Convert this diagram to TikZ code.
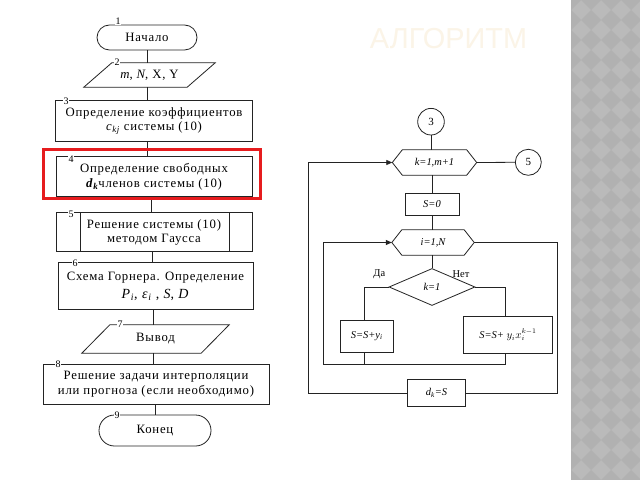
\documentclass[tikz,border=0pt]{standalone}
\usepackage{fontspec}
\setmainfont{Liberation Serif}
\newfontfamily\lfont{Liberation Serif}[LetterSpace=6]
\newfontfamily\titlefont{Liberation Sans}
\usetikzlibrary{arrows.meta,shapes.geometric}
\definecolor{redframe}{RGB}{230,28,30}
\definecolor{stripgray}{RGB}{186,186,186}
\definecolor{stripdark}{RGB}{177,177,177}
\definecolor{titlecol}{RGB}{251,244,231}
\definecolor{ln}{RGB}{35,35,35}
\newcommand\isub[1]{\textsubscript{\itshape #1}}
\begin{document}
\begin{tikzpicture}[x=1bp,y=-1bp,
  lfnt/.style={font=\lfont\fontsize{12.8}{14.5}\selectfont},
  lbox/.style={lfnt, draw=ln, line width=0.8bp, align=center, inner sep=1bp},
  ltxt/.style={lfnt, align=center, inner sep=1bp},
  num/.style={fill=white, inner sep=0.6bp, font=\fontsize{10}{10}\selectfont},
  rfnt/.style={font=\fontsize{10.5}{12}\selectfont\itshape, inner sep=1bp},
  rbox/.style={rfnt, draw=ln, line width=0.8bp},
  conn/.style={draw=ln, line width=0.8bp},
  arr/.style={conn, -{Triangle[length=6bp,width=5bp]}},
  shp/.style={draw=ln, line width=0.8bp}]
\useasboundingbox (0,0) rectangle (640,480);
\fill[white] (0,0) rectangle (640,480);

% right grey strip
\begin{scope}
\clip (571,0) rectangle (640,480);
\fill[stripgray] (571,0) rectangle (640,480);
\foreach \i in {0,...,4}{\foreach \j in {0,...,25}{
  \fill[stripdark] ({571+20*\i},{20*\j-10}) -- ++(10,10) -- ++(-10,10) -- ++(-10,-10) -- cycle;}}
\end{scope}

% title
\node[font=\titlefont\fontsize{29}{29}\selectfont, text=titlecol] (title) at (448.5,38.5) {АЛГОРИТМ};

% ---------- left flowchart ----------
\node[lbox, rounded corners=12.5bp, minimum width=100bp, minimum height=25bp] (t1) at (147,37.5) {Начало};
\node[ltxt, minimum width=103bp, minimum height=24bp] (p2) at (149.5,75) {\textit{m}, \textit{N}, X, Y};
\draw[shp] ([xshift=14bp]p2.north west) -- ([xshift=14bp]p2.north east) -- ([xshift=-14bp]p2.south east) -- ([xshift=-14bp]p2.south west) -- cycle;
\node[lbox, minimum width=197bp, minimum height=41bp] (b3) at (154,121) {Определение коэффициентов\\\textit{c}\isub{kj} системы (10)};
\node[lbox, minimum width=196bp, minimum height=40bp] (b4) at (154,176.7) {Определение свободных\\\textbf{\textit{d}}\isub{\textbf{k}}членов системы (10)};
\node[lbox, minimum width=196bp, minimum height=39bp] (b5) at (154,232.2) {Решение системы (10)\\методом Гаусса};
\draw[shp] ([xshift=24.5bp]b5.north west) -- ([xshift=24.5bp]b5.south west);
\draw[shp] ([xshift=-23.5bp]b5.north east) -- ([xshift=-23.5bp]b5.south east);
\node[lbox, minimum width=195bp, minimum height=47bp] (b6) at (155.5,286.3) {Схема Горнера. Определение\\[4bp]{\fontsize{14}{14}\selectfont\textit{P}\isub{i}, \textit{ε}\isub{i} , \textit{S}, \textit{D}}};
\node[ltxt, minimum width=119bp, minimum height=28bp] (p7) at (155.5,339) {Вывод};
\draw[shp] ([xshift=14bp]p7.north west) -- ([xshift=14bp]p7.north east) -- ([xshift=-14bp]p7.south east) -- ([xshift=-14bp]p7.south west) -- cycle;
\node[lbox, minimum width=226bp, minimum height=40bp] (b8) at (156,384) {Решение задачи интерполяции\\или прогноза (если необходимо)};
\node[lbox, rounded corners=15.5bp, minimum width=112bp, minimum height=31bp] (t9) at (155,430.5) {Конец};

\draw[conn] (t1.south) -- (t1.south |- p2.north);
\draw[conn] (t1.south |- p2.south) -- (t1.south |- b3.north);
\draw[conn] (t1.south |- b3.south) -- (t1.south |- b4.north);
\draw[conn] ([xshift=-3bp]b4.south) -- ([xshift=-3bp]b4.south |- b5.north);
\draw[conn] ([xshift=-2bp]b5.south) -- ([xshift=-2bp]b5.south |- b6.north);
\draw[conn] ([xshift=-2bp]b6.south) -- ([xshift=-2bp]b6.south |- p7.north);
\draw[conn] ([xshift=-2bp]b6.south |- p7.south) -- ([xshift=-2bp]b6.south |- b8.north);
\draw[conn] (t9.north |- b8.south) -- (t9.north);

% highlight frame
\node[draw=redframe, line width=3bp, minimum width=216bp, minimum height=49bp, inner sep=0pt] (hl) at (152,174.5) {};

% step numbers
\node[num] (n1) at (118,21) {1};
\node[num] (n2) at (117,62) {2};
\node[num] (n3) at (66,101.5) {3};
\node[num] (n4) at (71,159) {4};
\node[num] (n5) at (71,214.5) {5};
\node[num] (n6) at (75,263) {6};
\node[num] (n7) at (120,324.5) {7};
\node[num] (n8) at (58,364) {8};
\node[num] (n9) at (117,415) {9};

% ---------- right flowchart ----------
\node[rbox, circle, minimum size=26.6bp, font=\fontsize{11}{12}\selectfont] (c3) at (431,121.7) {3};
\node[rfnt, minimum width=84bp, minimum height=25bp] (hk) at (434.5,162.5) {\textit{k}=1,\textit{m}+1};
\draw[shp] (hk.west) -- ([xshift=10bp]hk.north west) -- ([xshift=-10bp]hk.north east) -- (hk.east) -- ([xshift=-10bp]hk.south east) -- ([xshift=10bp]hk.south west) -- cycle;
\node[rbox, circle, minimum size=26bp, font=\fontsize{11}{12}\selectfont] (c5) at (528.3,162.3) {5};
\node[rbox, minimum width=54bp, minimum height=22bp] (s0) at (432,204) {\textit{S}=\textit{0}};
\node[rfnt, minimum width=82bp, minimum height=25bp] (hi) at (433,242.5) {\textit{i}=1,\textit{N}};
\draw[shp] (hi.west) -- ([xshift=10bp]hi.north west) -- ([xshift=-10bp]hi.north east) -- (hi.east) -- ([xshift=-10bp]hi.south east) -- ([xshift=10bp]hi.south west) -- cycle;
\node[rfnt, shape=diamond, draw=ln, line width=0.8bp, minimum width=86bp, minimum height=37bp] (dia) at (432,287) {\textit{k}=1};
\node[rbox, minimum width=53bp, minimum height=32bp] (sy) at (366.7,336) {\textit{S}=\textit{S}+\textit{y}\isub{i}};
\node[rbox, minimum width=89bp, minimum height=37bp] (sx) at (508,335) {\textit{S}=\textit{S}+ $y_i x_i^{k-1}$};
\node[rbox, minimum width=58bp, minimum height=27.5bp] (dk) at (436.5,393) {\textit{d}\isub{k}=\textit{S}};
\node[font=\fontsize{10.5}{12}\selectfont, inner sep=1bp] (da) at (379.3,274) {Да};
\node[font=\fontsize{10.5}{12}\selectfont, inner sep=1bp] (net) at (461,274) {Нет};

\coordinate (jn) at (323,364.3);
\coordinate (ro) at (557,393);
\coordinate (lo) at (308,393);

\draw[conn] (c3.south) -- (c3.south |- hk.north);
\draw[conn] (hk.east) -- (c5.west);
\draw[conn] (s0.north |- hk.south) -- (s0.north);
\draw[conn] (s0.south) -- (s0.south |- hi.north);
\draw[conn] (dia.north |- hi.south) -- (dia.north);
\draw[conn] (dia.west) -| ([xshift=-2.5bp]sy.north);
\draw[conn] (dia.east) -| ([xshift=-3bp]sx.north);
\draw[conn] ([xshift=-2.5bp]sy.south) -- ([xshift=-2.5bp]sy.south |- jn);
\draw[arr] ([xshift=-3bp]sx.south) -- ([xshift=-3bp]sx.south |- jn) -- (jn) |- (hi.west);
\draw[conn] (hi.east) -| (ro) -- (dk.east);
\draw[arr] (dk.west) -- (lo) |- (hk.west);
\end{tikzpicture}
\end{document}
